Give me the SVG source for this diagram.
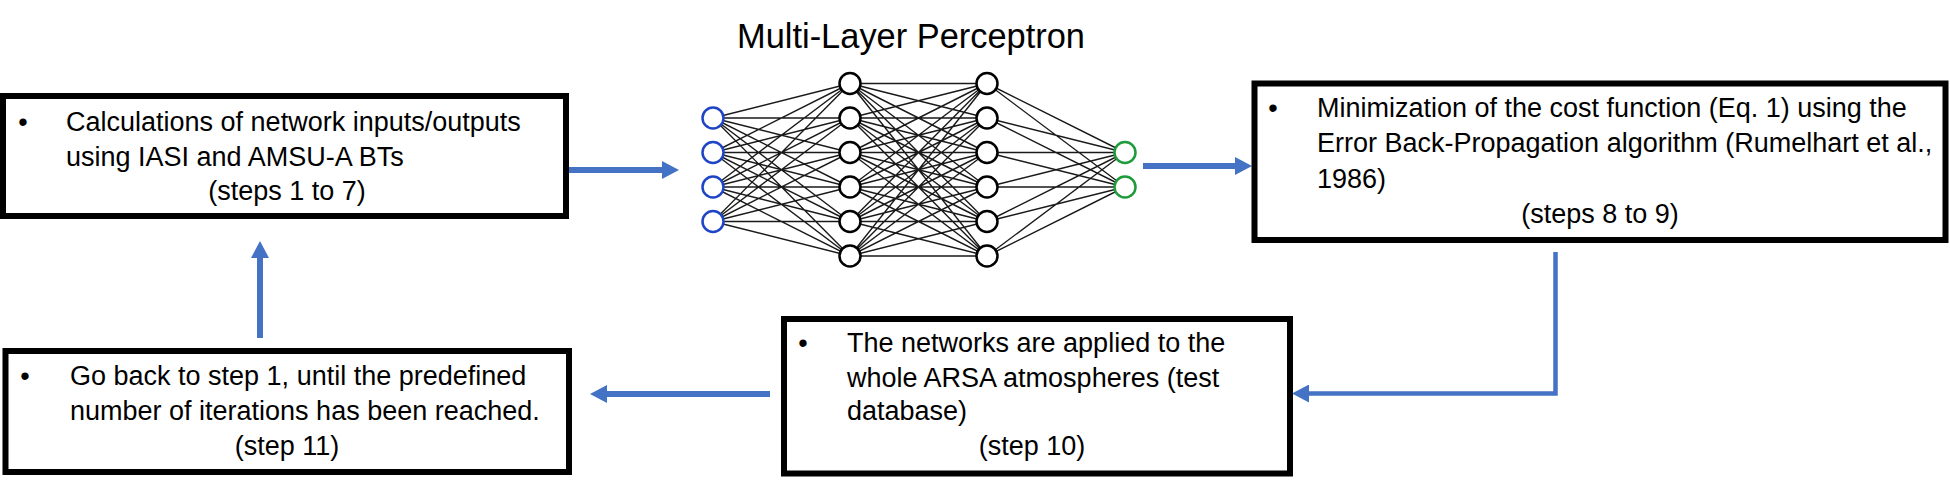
<svg xmlns="http://www.w3.org/2000/svg" width="1950" height="483" viewBox="0 0 1950 483">
<style>
  .box { fill: #ffffff; stroke: #000000; stroke-width: 6; }
  .t { font-family: "Liberation Sans", Arial, sans-serif; font-size: 27px; fill: #000000; }
  .c { text-anchor: middle; }
  .title { font-family: "Liberation Sans", Arial, sans-serif; font-size: 34.4px; fill: #000000; text-anchor: middle; }
  .arrow { fill: none; stroke: #4472C4; stroke-width: 6; marker-end: url(#head); }
  .elbow { fill: none; stroke: #4472C4; stroke-width: 4.5; marker-end: url(#head); }
  .w { fill: none; stroke: #1a1a1a; stroke-width: 1.4; }
  .n { fill: #ffffff; stroke: #000000; stroke-width: 2.5; }
  .ni { fill: #ffffff; stroke: #1f45c6; stroke-width: 2.5; }
  .no { fill: #ffffff; stroke: #1e9b3a; stroke-width: 2.5; }
</style>
<defs>
  <marker id="head" markerUnits="userSpaceOnUse" markerWidth="18" markerHeight="18" refX="0" refY="9" orient="auto">
    <path d="M0,0 L17,9 L0,18 Z" fill="#4472C4"/>
  </marker>
</defs>
<rect width="1950" height="483" fill="#ffffff"/>

<g id="connectors">
  <path class="arrow" d="M568,170 H662"/>
  <path class="arrow" d="M1143,166 H1235"/>
  <path class="elbow" d="M1555.5,252 V393.5 H1309"/>
  <path class="arrow" d="M770,394 H607"/>
  <path class="arrow" d="M260,338 V258"/>
</g>

<g id="box-calculations">
  <rect class="box" x="3" y="96" width="563" height="120"/>
  <text class="t c" x="23" y="131">•</text>
  <text class="t" x="66" y="131">Calculations of network inputs/outputs</text>
  <text class="t" x="66" y="166">using IASI and AMSU-A BTs</text>
  <text class="t c" x="287" y="200">(steps 1 to 7)</text>
</g>

<g id="mlp">
  <text class="title" x="911" y="48">Multi-Layer Perceptron</text>
  <path class="w" d="M713 118L850 83.5M713 118L850 118M713 118L850 152.5M713 118L850 187M713 118L850 221.5M713 118L850 256
M713 152.5L850 83.5M713 152.5L850 118M713 152.5L850 152.5M713 152.5L850 187M713 152.5L850 221.5M713 152.5L850 256
M713 187L850 83.5M713 187L850 118M713 187L850 152.5M713 187L850 187M713 187L850 221.5M713 187L850 256
M713 221.5L850 83.5M713 221.5L850 118M713 221.5L850 152.5M713 221.5L850 187M713 221.5L850 221.5M713 221.5L850 256"/>
  <path class="w" d="M850 83.5L987 83.5M850 83.5L987 118M850 83.5L987 152.5M850 83.5L987 187M850 83.5L987 221.5M850 83.5L987 256
M850 118L987 83.5M850 118L987 118M850 118L987 152.5M850 118L987 187M850 118L987 221.5M850 118L987 256
M850 152.5L987 83.5M850 152.5L987 118M850 152.5L987 152.5M850 152.5L987 187M850 152.5L987 221.5M850 152.5L987 256
M850 187L987 83.5M850 187L987 118M850 187L987 152.5M850 187L987 187M850 187L987 221.5M850 187L987 256
M850 221.5L987 83.5M850 221.5L987 118M850 221.5L987 152.5M850 221.5L987 187M850 221.5L987 221.5M850 221.5L987 256
M850 256L987 83.5M850 256L987 118M850 256L987 152.5M850 256L987 187M850 256L987 221.5M850 256L987 256"/>
  <path class="w" d="M987 83.5L1125 152.5M987 83.5L1125 187M987 118L1125 152.5M987 118L1125 187M987 152.5L1125 152.5M987 152.5L1125 187
M987 187L1125 152.5M987 187L1125 187M987 221.5L1125 152.5M987 221.5L1125 187M987 256L1125 152.5M987 256L1125 187"/>
  <circle class="ni" cx="713" cy="118" r="10.5"/>
  <circle class="ni" cx="713" cy="152.5" r="10.5"/>
  <circle class="ni" cx="713" cy="187" r="10.5"/>
  <circle class="ni" cx="713" cy="221.5" r="10.5"/>
  <circle class="n" cx="850" cy="83.5" r="10.5"/>
  <circle class="n" cx="850" cy="118" r="10.5"/>
  <circle class="n" cx="850" cy="152.5" r="10.5"/>
  <circle class="n" cx="850" cy="187" r="10.5"/>
  <circle class="n" cx="850" cy="221.5" r="10.5"/>
  <circle class="n" cx="850" cy="256" r="10.5"/>
  <circle class="n" cx="987" cy="83.5" r="10.5"/>
  <circle class="n" cx="987" cy="118" r="10.5"/>
  <circle class="n" cx="987" cy="152.5" r="10.5"/>
  <circle class="n" cx="987" cy="187" r="10.5"/>
  <circle class="n" cx="987" cy="221.5" r="10.5"/>
  <circle class="n" cx="987" cy="256" r="10.5"/>
  <circle class="no" cx="1125" cy="152.5" r="10.5"/>
  <circle class="no" cx="1125" cy="187" r="10.5"/>
</g>

<g id="box-minimization">
  <rect class="box" x="1254.5" y="83.5" width="691" height="156.5"/>
  <text class="t c" x="1273" y="117">•</text>
  <text class="t" x="1317" y="117">Minimization of the cost function (Eq. 1) using the</text>
  <text class="t" x="1317" y="152">Error Back-Propagation algorithm (Rumelhart et al.,</text>
  <text class="t" x="1317" y="188">1986)</text>
  <text class="t c" x="1600" y="223">(steps 8 to 9)</text>
</g>

<g id="box-networks-applied">
  <rect class="box" x="784" y="319" width="506" height="154.5"/>
  <text class="t c" x="803" y="352">•</text>
  <text class="t" x="847" y="352">The networks are applied to the</text>
  <text class="t" x="847" y="387">whole ARSA atmospheres (test</text>
  <text class="t" x="847" y="420">database)</text>
  <text class="t c" x="1032" y="455">(step 10)</text>
</g>

<g id="box-go-back">
  <rect class="box" x="5.5" y="351" width="563.5" height="121"/>
  <text class="t c" x="25" y="385">•</text>
  <text class="t" x="70" y="385">Go back to step 1, until the predefined</text>
  <text class="t" x="70" y="420">number of iterations has been reached.</text>
  <text class="t c" x="287" y="455">(step 11)</text>
</g>
</svg>
